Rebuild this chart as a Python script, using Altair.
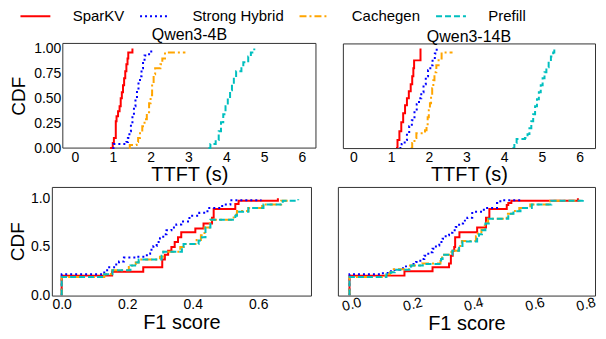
import altair as alt
import pandas as pd

SERIES = ["SparKV", "Strong Hybrid", "Cachegen", "Prefill"]
COLORS = ["#ff0000", "#0000ff", "#ffa500", "#00bfbf"]
DASHES = [[1, 0], [2, 3], [7, 3, 2, 3], [6, 3]]
PANEL_TITLES = ["Qwen3-4B", "Qwen3-14B"]

TTFT_TICKS = [0, 1, 2, 3, 4, 5, 6]
CDF_TICKS_TOP = [0, 0.25, 0.5, 0.75, 1.0]
CDF_TICKS_BOTTOM = [0, 0.5, 1.0]
F1_TICKS_LEFT = [0, 0.2, 0.4, 0.6]
F1_TICKS_RIGHT = [0, 0.2, 0.4, 0.6, 0.8]

# ---- TTFT, Qwen3-4B ----
TL_SPARKV_X = [0.93, 1.0, 1.03, 1.08, 1.10, 1.14, 1.18, 1.21, 1.24, 1.27, 1.30, 1.33, 1.36, 1.39, 1.41, 1.52]
TL_SPARKV_Y = [0.0, 0.05, 0.10, 0.27, 0.32, 0.37, 0.42, 0.50, 0.56, 0.63, 0.70, 0.77, 0.84, 0.90, 0.96, 1.0]
TL_HYBRID_X = [0.99, 1.02, 1.36, 1.40, 1.44, 1.48, 1.52, 1.56, 1.60, 1.64, 1.68, 1.72, 1.76, 1.80, 1.84, 1.96, 2.08]
TL_HYBRID_Y = [0.0, 0.04, 0.06, 0.10, 0.17, 0.24, 0.32, 0.42, 0.50, 0.58, 0.66, 0.72, 0.80, 0.87, 0.93, 0.97, 0.97]
TL_CACHEGEN_X = [1.43, 1.45, 1.63, 1.67, 1.72, 1.78, 1.84, 1.90, 1.96, 2.00, 2.04, 2.08, 2.12, 2.26, 2.31, 2.38, 2.92]
TL_CACHEGEN_Y = [0.0, 0.03, 0.06, 0.10, 0.16, 0.22, 0.29, 0.36, 0.45, 0.53, 0.64, 0.74, 0.80, 0.84, 0.90, 0.96, 0.96]
TL_PREFILL_X = [3.53, 3.58, 3.72, 3.80, 3.86, 3.92, 3.98, 4.04, 4.10, 4.15, 4.20, 4.26, 4.40, 4.45, 4.58, 4.65, 4.74]
TL_PREFILL_Y = [0.0, 0.04, 0.08, 0.17, 0.26, 0.34, 0.42, 0.50, 0.58, 0.64, 0.71, 0.77, 0.80, 0.86, 0.92, 0.96, 1.0]

# ---- TTFT, Qwen3-14B ----
TR_SPARKV_X = [1.13, 1.17, 1.22, 1.27, 1.32, 1.37, 1.42, 1.47, 1.52, 1.56, 1.59, 1.61, 1.78]
TR_SPARKV_Y = [0.0, 0.08, 0.17, 0.26, 0.35, 0.43, 0.50, 0.57, 0.64, 0.72, 0.80, 0.88, 1.0]
TR_HYBRID_X = [1.22, 1.28, 1.36, 1.42, 1.48, 1.55, 1.62, 1.68, 1.74, 1.80, 1.86, 1.92, 1.98, 2.04, 2.10, 2.16, 2.21]
TR_HYBRID_Y = [0.0, 0.04, 0.08, 0.15, 0.22, 0.28, 0.37, 0.44, 0.50, 0.56, 0.64, 0.72, 0.78, 0.83, 0.89, 0.95, 1.0]
TR_CACHEGEN_X = [1.52, 1.56, 1.62, 1.67, 1.90, 1.94, 1.97, 2.00, 2.03, 2.06, 2.09, 2.12, 2.15, 2.20, 2.26, 2.34, 2.63]
TR_CACHEGEN_Y = [0.0, 0.05, 0.10, 0.15, 0.18, 0.24, 0.31, 0.38, 0.45, 0.52, 0.60, 0.68, 0.76, 0.83, 0.90, 0.96, 0.96]
TR_PREFILL_X = [4.22, 4.27, 4.33, 4.55, 4.62, 4.67, 4.72, 4.77, 4.82, 4.87, 4.92, 4.97, 5.02, 5.07, 5.12, 5.18, 5.24, 5.30, 5.33]
TR_PREFILL_Y = [0.0, 0.05, 0.09, 0.10, 0.14, 0.20, 0.27, 0.34, 0.42, 0.49, 0.56, 0.63, 0.70, 0.76, 0.81, 0.87, 0.92, 0.96, 1.0]

# ---- F1, Qwen3-4B ----
BL_SPARKV_X = [0.0, 0.0, 0.154, 0.249, 0.307, 0.315, 0.325, 0.335, 0.345, 0.355, 0.365, 0.408, 0.433, 0.459, 0.464, 0.530, 0.540, 0.660]
BL_SPARKV_Y = [0.0, 0.205, 0.245, 0.29, 0.37, 0.42, 0.46, 0.50, 0.55, 0.60, 0.65, 0.69, 0.74, 0.80, 0.89, 0.94, 0.975, 1.0]
BL_HYBRID_X = [0.0, 0.0, 0.13, 0.145, 0.16, 0.175, 0.19, 0.225, 0.26, 0.27, 0.28, 0.29, 0.30, 0.31, 0.32, 0.335, 0.35, 0.365, 0.39, 0.42, 0.445, 0.49, 0.515, 0.61]
BL_HYBRID_Y = [0.0, 0.22, 0.26, 0.29, 0.32, 0.35, 0.39, 0.40, 0.43, 0.47, 0.51, 0.55, 0.59, 0.63, 0.67, 0.70, 0.73, 0.76, 0.82, 0.85, 0.90, 0.935, 0.98, 0.98]
BL_CACHEGEN_X = [0.0, 0.0, 0.13, 0.15, 0.205, 0.226, 0.235, 0.30, 0.31, 0.362, 0.372, 0.412, 0.425, 0.436, 0.452, 0.525, 0.535, 0.57, 0.612, 0.670, 0.69]
BL_CACHEGEN_Y = [0.0, 0.19, 0.22, 0.26, 0.31, 0.34, 0.37, 0.40, 0.45, 0.50, 0.53, 0.57, 0.62, 0.70, 0.78, 0.83, 0.87, 0.90, 0.935, 0.975, 0.975]
BL_PREFILL_X = [0.0, 0.0, 0.13, 0.155, 0.21, 0.228, 0.235, 0.305, 0.31, 0.367, 0.372, 0.418, 0.428, 0.439, 0.454, 0.530, 0.535, 0.57, 0.616, 0.675, 0.722]
BL_PREFILL_Y = [0.0, 0.19, 0.22, 0.26, 0.31, 0.34, 0.37, 0.41, 0.45, 0.50, 0.53, 0.565, 0.60, 0.70, 0.78, 0.82, 0.86, 0.90, 0.935, 0.975, 0.99]

# ---- F1, Qwen3-14B ----
BR_SPARKV_X = [0.0, 0.0, 0.18, 0.272, 0.326, 0.332, 0.338, 0.343, 0.346, 0.36, 0.418, 0.447, 0.458, 0.515, 0.52, 0.53, 0.748]
BR_SPARKV_Y = [0.0, 0.205, 0.25, 0.29, 0.33, 0.41, 0.46, 0.50, 0.60, 0.65, 0.70, 0.80, 0.89, 0.93, 0.95, 0.975, 1.0]
BR_HYBRID_X = [0.0, 0.0, 0.10, 0.125, 0.148, 0.165, 0.18, 0.20, 0.218, 0.232, 0.245, 0.258, 0.272, 0.283, 0.294, 0.305, 0.315, 0.326, 0.337, 0.348, 0.359, 0.372, 0.386, 0.402, 0.44, 0.483, 0.494, 0.564]
BR_HYBRID_Y = [0.0, 0.22, 0.23, 0.25, 0.265, 0.28, 0.30, 0.325, 0.345, 0.375, 0.41, 0.445, 0.48, 0.515, 0.55, 0.585, 0.62, 0.645, 0.67, 0.705, 0.74, 0.77, 0.80, 0.86, 0.90, 0.95, 0.98, 0.98]
BR_CACHEGEN_X = [0.0, 0.0, 0.118, 0.133, 0.145, 0.198, 0.238, 0.298, 0.303, 0.334, 0.357, 0.368, 0.414, 0.420, 0.432, 0.443, 0.454, 0.515, 0.534, 0.556, 0.592, 0.657, 0.76]
BR_CACHEGEN_Y = [0.0, 0.19, 0.22, 0.24, 0.27, 0.31, 0.33, 0.38, 0.42, 0.46, 0.51, 0.56, 0.61, 0.64, 0.68, 0.75, 0.79, 0.84, 0.87, 0.90, 0.935, 0.975, 0.99]
BR_PREFILL_X = [0.0, 0.0, 0.121, 0.135, 0.148, 0.202, 0.24, 0.30, 0.305, 0.337, 0.359, 0.37, 0.418, 0.424, 0.434, 0.445, 0.456, 0.52, 0.537, 0.56, 0.597, 0.661, 0.764]
BR_PREFILL_Y = [0.0, 0.19, 0.22, 0.24, 0.265, 0.31, 0.325, 0.377, 0.42, 0.46, 0.51, 0.555, 0.60, 0.63, 0.67, 0.74, 0.79, 0.84, 0.867, 0.90, 0.935, 0.975, 0.99]

FONT = "Liberation Sans"
FRAME_COLOR = "#333333"

COLOR_SCALE = alt.Scale(domain=SERIES, range=COLORS)
DASH_SCALE = alt.Scale(domain=SERIES, range=DASHES)


def frame(pairs):
    rows = []
    for name, xs, ys in pairs:
        for i, (x, y) in enumerate(zip(xs, ys)):
            rows.append({"series": name, "x": x, "y": y, "idx": i})
    return pd.DataFrame(rows)


def ycdf(ydom, yticks, yfmt, title_pad, offset=0):
    if yticks is None:
        axis = None
    else:
        axis = alt.Axis(values=yticks, format=yfmt, title="CDF", grid=False,
                        ticks=False, domain=False, labelPadding=2, offset=offset,
                        titlePadding=title_pad, titleFontSize=19)
    return alt.Scale(domain=ydom, nice=False, zero=False), axis


def lines(df, xscale, xaxis, yscale, yaxis, clip=True):
    return alt.Chart(df).mark_line(strokeWidth=2, interpolate="step-after", clip=clip).encode(
        x=alt.X("x:Q", scale=xscale, axis=xaxis),
        y=alt.Y("y:Q", scale=yscale, axis=yaxis),
        color=alt.Color("series:N", scale=COLOR_SCALE, legend=None),
        strokeDash=alt.StrokeDash("series:N", scale=DASH_SCALE, legend=None),
        order=alt.Order("idx:Q"),
    )


def title_params(text, dx=0):
    return alt.TitleParams(text, fontSize=16, font=FONT, fontWeight="normal",
                           offset=-2, dx=dx, color="black")


# ---- top-left: its frame starts 11px right of the column origin ----
TL_XDOM = [-0.32, 6.37]
TL_YDOM = [0, 1.05]
tl_x_scale = alt.Scale(domain=TL_XDOM, range=[11, 265], nice=False, zero=False)
tl_x_axis = alt.Axis(values=TTFT_TICKS, format="d", title="TTFT (s)", grid=False,
                     ticks=False, domain=False, labelPadding=2, titlePadding=1,
                     titleX=138, labelFlush=False)
tl_y_scale, tl_y_axis = ycdf(TL_YDOM, CDF_TICKS_TOP, ".2f", 5, offset=-11)
tl_box = pd.DataFrame({"x": [TL_XDOM[0]], "x2": [TL_XDOM[1]], "y": [TL_YDOM[0]], "y2": [TL_YDOM[1]]})
tl_frame = alt.Chart(tl_box).mark_rect(filled=False, color=FRAME_COLOR, strokeWidth=1).encode(
    x=alt.X("x:Q", scale=tl_x_scale, axis=tl_x_axis), x2="x2:Q",
    y=alt.Y("y:Q", scale=tl_y_scale, axis=tl_y_axis), y2="y2:Q",
)
tl_lines = lines(frame([("SparKV", TL_SPARKV_X, TL_SPARKV_Y), ("Strong Hybrid", TL_HYBRID_X, TL_HYBRID_Y),
                        ("Cachegen", TL_CACHEGEN_X, TL_CACHEGEN_Y), ("Prefill", TL_PREFILL_X, TL_PREFILL_Y)]),
                 tl_x_scale, tl_x_axis, tl_y_scale, tl_y_axis, clip=False)
tl = alt.layer(tl_frame, tl_lines).properties(
    width=265, height=105, title=title_params(PANEL_TITLES[0], dx=5.5),
    view=alt.ViewBackground(strokeOpacity=0))

# ---- top-right ----
tr_x_scale = alt.Scale(domain=[-0.28, 6.41], nice=False, zero=False)
tr_x_axis = alt.Axis(values=TTFT_TICKS, format="d", title="TTFT (s)", grid=False,
                     ticks=False, domain=False, labelPadding=2, titlePadding=1,
                     labelFlush=False)
tr_y_scale, tr_y_axis = ycdf(TL_YDOM, None, None, 0)
tr = lines(frame([("SparKV", TR_SPARKV_X, TR_SPARKV_Y), ("Strong Hybrid", TR_HYBRID_X, TR_HYBRID_Y),
                  ("Cachegen", TR_CACHEGEN_X, TR_CACHEGEN_Y), ("Prefill", TR_PREFILL_X, TR_PREFILL_Y)]),
           tr_x_scale, tr_x_axis, tr_y_scale, tr_y_axis).properties(
    width=253, height=105, title=title_params(PANEL_TITLES[1]))

# ---- bottom-left ----
bl_x_scale = alt.Scale(domain=[-0.03, 0.761], nice=False, zero=False)
bl_x_axis = alt.Axis(values=F1_TICKS_LEFT, format=".1f", title="F1 score", grid=False,
                     ticks=False, domain=False, labelPadding=2, titlePadding=1,
                     labelFlush=False)
bl_y_scale, bl_y_axis = ycdf([0, 1.116], CDF_TICKS_BOTTOM, ".1f", 3)
bl = lines(frame([("SparKV", BL_SPARKV_X, BL_SPARKV_Y), ("Strong Hybrid", BL_HYBRID_X, BL_HYBRID_Y),
                  ("Cachegen", BL_CACHEGEN_X, BL_CACHEGEN_Y), ("Prefill", BL_PREFILL_X, BL_PREFILL_Y)]),
           bl_x_scale, bl_x_axis, bl_y_scale, bl_y_axis).properties(width=260, height=109)

# ---- bottom-right ----
br_x_scale = alt.Scale(domain=[-0.038, 0.804], nice=False, zero=False)
br_x_axis = alt.Axis(values=F1_TICKS_RIGHT, format=".1f", title="F1 score", grid=False,
                     ticks=False, domain=False, labelPadding=2, titlePadding=0,
                     labelAngle=345, labelBaseline="top", labelAlign="center",
                     labelFlush=False,
                     labelOffset={"condition": {"test": "datum.value > 0.79", "value": -10},
                                  "value": 0})
br_y_scale, br_y_axis = ycdf([0, 1.116], None, None, 0)
br = lines(frame([("SparKV", BR_SPARKV_X, BR_SPARKV_Y), ("Strong Hybrid", BR_HYBRID_X, BR_HYBRID_Y),
                  ("Cachegen", BR_CACHEGEN_X, BR_CACHEGEN_Y), ("Prefill", BR_PREFILL_X, BR_PREFILL_Y)]),
           br_x_scale, br_x_axis, br_y_scale, br_y_axis).properties(width=258, height=109)

# ---- legend carrier: one point per series, so no visible line is drawn ----
legend_df = pd.DataFrame({"series": SERIES, "x": [0] * len(SERIES), "y": [0] * len(SERIES)})
LEG = dict(title=None, orient="none", legendX=-24, legendY=-5, direction="horizontal")
legend_chart = alt.Chart(legend_df).mark_line(strokeWidth=2).encode(
    x=alt.X("x:Q", axis=None),
    y=alt.Y("y:Q", axis=None),
    color=alt.Color("series:N", scale=COLOR_SCALE, legend=alt.Legend(**LEG)),
    strokeDash=alt.StrokeDash("series:N", scale=DASH_SCALE, legend=alt.Legend(**LEG)),
).properties(width=1, height=1, view=alt.ViewBackground(strokeOpacity=0))

top = alt.hconcat(tl, tr, spacing=25)
bottom = alt.hconcat(bl, br, spacing=25)
panels = alt.vconcat(top, bottom, spacing=0)

chart = alt.vconcat(legend_chart, panels, spacing=3).resolve_legend(
    color="independent", strokeDash="independent"
).properties(
    padding={"left": 0, "top": 0, "right": 0, "bottom": 0}
).configure_view(
    stroke=FRAME_COLOR, strokeWidth=1
).configure_axis(
    labelFont=FONT, titleFont=FONT, labelFontSize=14, titleFontSize=20,
    titleFontWeight="normal", labelColor="black", titleColor="black"
).configure_legend(
    labelFont=FONT, labelFontSize=15, labelColor="black",
    symbolType="M-3,0L3,0", symbolSize=100, symbolStrokeWidth=2,
    columnPadding=11, labelOffset=30, padding=0
)

chart.save("out.html", embed_options={"renderer": "svg", "actions": False})
